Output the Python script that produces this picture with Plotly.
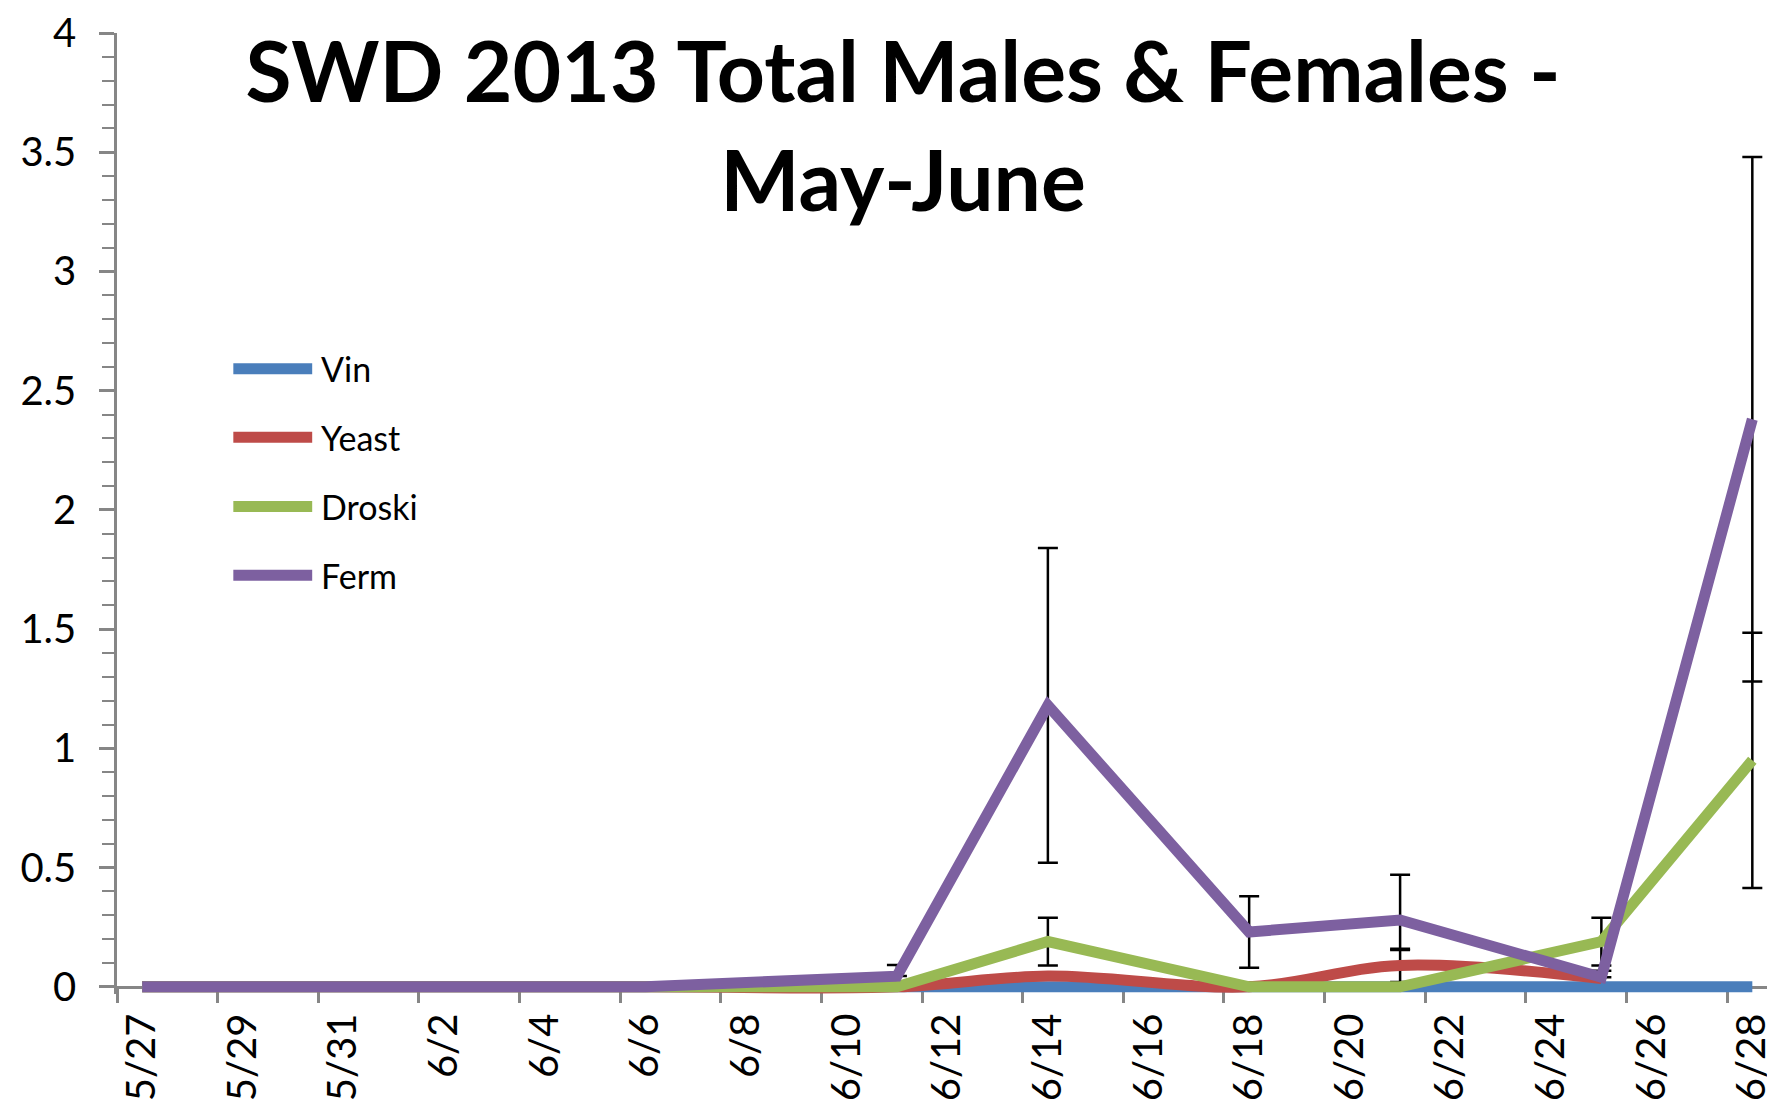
import plotly.graph_objects as go

# ---------------- data ----------------
dates = ["2013-05-27", "2013-06-06", "2013-06-11", "2013-06-14",
         "2013-06-18", "2013-06-21", "2013-06-25", "2013-06-28"]
series_names = ["Vin", "Yeast", "Droski", "Ferm"]
vin = [0, 0, 0, 0, 0, 0, 0, 0]
yeast = [0, 0, 0, 0.045, 0, 0.09, 0.035, None]
droski = [0, 0, 0, 0.19, 0, 0, 0.19, 0.95]
ferm = [0, 0, 0.045, 1.18, 0.23, 0.28, 0.04, 2.38]
vin_err_plus = [0, 0, 0, 0, 0, 0, 0, 0]
vin_err_minus = [0, 0, 0, 0, 0, 0, 0, 0]
yeast_err_plus = [0, 0, 0, 0, 0, 0.07, 0, 0]
yeast_err_minus = [0, 0, 0, 0, 0, 0.07, 0, 0]
droski_err_plus = [0, 0, 0, 0.1, 0, 0, 0.1, 0.535]
droski_err_minus = [0, 0, 0, 0.1, 0, 0, 0.1, 0.535]
ferm_err_plus = [0, 0, 0.047, 0.66, 0.15, 0.19, 0.028, 1.1]
ferm_err_minus = [0, 0, 0, 0.66, 0.15, 0.125, 0, 1.1]

tick_dates = ["2013-05-27", "2013-05-29", "2013-05-31", "2013-06-02", "2013-06-04",
              "2013-06-06", "2013-06-08", "2013-06-10", "2013-06-12", "2013-06-14",
              "2013-06-16", "2013-06-18", "2013-06-20", "2013-06-22", "2013-06-24",
              "2013-06-26", "2013-06-28"]
tick_labels = ["5/27", "5/29", "5/31", "6/2", "6/4", "6/6", "6/8", "6/10", "6/12",
               "6/14", "6/16", "6/18", "6/20", "6/22", "6/24", "6/26", "6/28"]
y_ticks = [0, 0.5, 1, 1.5, 2, 2.5, 3, 3.5, 4]
y_tick_labels = ["0", "0.5", "1", "1.5", "2", "2.5", "3", "3.5", "4"]

# ---------------- style ----------------
colors = ["#4A7EBB", "#BE4B48", "#98B954", "#7D60A0"]
shapes_mode = [("spline", 1.0), ("spline", 1.0), ("linear", 0), ("linear", 0)]
LINE_W = 11
FONT = "Lato, 'Open Sans', sans-serif"
AXIS_COLOR = "#868686"
TICK_SIZE = 40

W, H = 1767, 1107
y_lo = -0.03
m_l, m_r, m_t, m_b = 117, 0, 32.5, 112.8

fig = go.Figure()

all_series = [
    (vin, vin_err_plus, vin_err_minus),
    (yeast, yeast_err_plus, yeast_err_minus),
    (droski, droski_err_plus, droski_err_minus),
    (ferm, ferm_err_plus, ferm_err_minus),
]

for name, color, (ys, ep, em), (shape, smooth) in zip(series_names, colors, all_series, shapes_mode):
    idx = [i for i in range(len(dates))
           if ys[i] is not None and (ep[i] > 0 or em[i] > 0)]
    if idx:
        fig.add_trace(go.Scatter(
            x=[dates[i] for i in idx], y=[ys[i] for i in idx],
            mode="markers", marker=dict(size=1, color="rgba(0,0,0,0)"),
            error_y=dict(type="data", symmetric=False,
                         array=[ep[i] for i in idx], arrayminus=[em[i] for i in idx],
                         color="black", thickness=2.5, width=10),
            showlegend=False, hoverinfo="skip"))
    line = dict(color=color, width=LINE_W, shape=shape)
    if shape == "spline":
        line["smoothing"] = smooth
    fig.add_trace(go.Scatter(x=dates, y=ys, mode="lines", name=name, line=line,
                             showlegend=False))

# ---------------- legend (drawn manually to match long line keys) ----------------
legend_y = [0.6506, 0.5793, 0.5074, 0.4358]
shapes = []
annotations = []
for name, color, ly in zip(series_names, colors, legend_y):
    shapes.append(dict(type="line", xref="paper", yref="paper",
                       x0=0.0705, x1=0.1183, y0=ly, y1=ly,
                       line=dict(color=color, width=11)))
    annotations.append(dict(xref="paper", yref="paper", x=0.1225, y=ly,
                            xanchor="left", yanchor="middle", text=name,
                            showarrow=False,
                            font=dict(family=FONT, size=34, color="black")))

fig.update_layout(
    template="none",
    width=W, height=H,
    margin=dict(l=m_l, r=m_r, t=m_t, b=m_b, pad=0, autoexpand=False),
    paper_bgcolor="white", plot_bgcolor="white",
    showlegend=False,
    title=dict(text="<b>SWD 2013 Total Males & Females -<br>May-June</b>",
               x=903 / W, xref="container", xanchor="center",
               y=1 - 102 / H, yref="container", yanchor="top",
               font=dict(family=FONT, size=84, color="black")),
    shapes=shapes, annotations=annotations,
    font=dict(family=FONT, color="black"),
)

fig.update_xaxes(
    type="date", automargin=False, layer="below traces",
    range=["2013-05-26 12:00", "2013-06-28 07:00"],
    anchor="free", position=(0 - y_lo) / (4 - y_lo),
    showline=True, linecolor=AXIS_COLOR, linewidth=2.5,
    showgrid=False, zeroline=False,
    tickmode="array", tickvals=tick_dates, ticktext=tick_labels,
    ticks="", tickangle=-90, ticklabelstandoff=9, ticklabeloverflow="allow",
    tickfont=dict(family=FONT, size=TICK_SIZE, color="black"),
    minor=dict(ticks="outside", tick0="2013-05-26 12:00", dtick=2 * 86400000,
               ticklen=14, tickwidth=2.5, tickcolor=AXIS_COLOR, showgrid=False),
)
fig.update_yaxes(
    range=[y_lo, 4], automargin=False, layer="below traces",
    showline=True, linecolor=AXIS_COLOR, linewidth=2.5,
    showgrid=False, zeroline=False,
    tickmode="array", tickvals=y_ticks, ticktext=y_tick_labels,
    ticks="outside", ticklen=15, tickwidth=2.5, tickcolor=AXIS_COLOR,
    ticklabelstandoff=15,
    tickfont=dict(family=FONT, size=TICK_SIZE, color="black"),
    minor=dict(ticks="outside", tick0=0, dtick=0.1, ticklen=12, tickwidth=2,
               tickcolor=AXIS_COLOR, showgrid=False),
)

fig.write_html("out.html", config={"displayModeBar": False},
               post_script="document.body.style.margin='0';document.body.style.overflow='hidden';")
